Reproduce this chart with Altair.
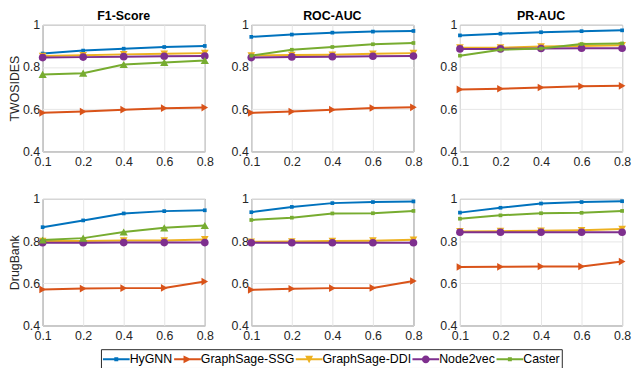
import altair as alt
import pandas as pd

x_labels = ["0.1", "0.2", "0.4", "0.6", "0.8"]
series_names = ["HyGNN", "GraphSage-SSG", "GraphSage-DDI", "Node2vec", "Caster"]
series_colors = ["#0072BD", "#D95319", "#EDB120", "#7E2F8E", "#77AC30"]
datasets = ["TWOSIDES", "DrugBank"]
metrics = ["F1-Score", "ROC-AUC", "PR-AUC"]

twosides_f1 = {
    "HyGNN": [0.864, 0.878, 0.887, 0.895, 0.900],
    "GraphSage-SSG": [0.583, 0.589, 0.598, 0.605, 0.608],
    "GraphSage-DDI": [0.852, 0.856, 0.860, 0.863, 0.866],
    "Node2vec": [0.845, 0.847, 0.849, 0.851, 0.852],
    "Caster": [0.765, 0.771, 0.812, 0.822, 0.831],
}
twosides_roc = {
    "HyGNN": [0.943, 0.954, 0.963, 0.968, 0.971],
    "GraphSage-SSG": [0.583, 0.589, 0.598, 0.606, 0.609],
    "GraphSage-DDI": [0.854, 0.857, 0.858, 0.863, 0.866],
    "Node2vec": [0.845, 0.848, 0.849, 0.851, 0.852],
    "Caster": [0.854, 0.882, 0.895, 0.908, 0.914],
}
twosides_pr = {
    "HyGNN": [0.950, 0.958, 0.965, 0.970, 0.974],
    "GraphSage-SSG": [0.694, 0.697, 0.703, 0.709, 0.711],
    "GraphSage-DDI": [0.892, 0.892, 0.897, 0.900, 0.903],
    "Node2vec": [0.886, 0.886, 0.888, 0.889, 0.889],
    "Caster": [0.854, 0.882, 0.888, 0.909, 0.912],
}
drugbank_f1 = {
    "HyGNN": [0.866, 0.898, 0.931, 0.942, 0.946],
    "GraphSage-SSG": [0.571, 0.575, 0.577, 0.578, 0.608],
    "GraphSage-DDI": [0.800, 0.800, 0.803, 0.803, 0.808],
    "Node2vec": [0.792, 0.792, 0.793, 0.793, 0.793],
    "Caster": [0.805, 0.814, 0.843, 0.863, 0.874],
}
drugbank_roc = {
    "HyGNN": [0.937, 0.962, 0.980, 0.985, 0.988],
    "GraphSage-SSG": [0.569, 0.574, 0.577, 0.578, 0.611],
    "GraphSage-DDI": [0.797, 0.798, 0.800, 0.802, 0.806],
    "Node2vec": [0.792, 0.792, 0.792, 0.792, 0.792],
    "Caster": [0.900, 0.911, 0.931, 0.932, 0.943],
}
drugbank_pr = {
    "HyGNN": [0.935, 0.958, 0.978, 0.985, 0.989],
    "GraphSage-SSG": [0.677, 0.678, 0.680, 0.680, 0.703],
    "GraphSage-DDI": [0.846, 0.847, 0.849, 0.851, 0.857],
    "Node2vec": [0.842, 0.842, 0.842, 0.842, 0.842],
    "Caster": [0.906, 0.922, 0.932, 0.934, 0.943],
}

tables = {
    ("TWOSIDES", "F1-Score"): twosides_f1,
    ("TWOSIDES", "ROC-AUC"): twosides_roc,
    ("TWOSIDES", "PR-AUC"): twosides_pr,
    ("DrugBank", "F1-Score"): drugbank_f1,
    ("DrugBank", "ROC-AUC"): drugbank_roc,
    ("DrugBank", "PR-AUC"): drugbank_pr,
}

rows = []
for (ds, met), tab in tables.items():
    for s in series_names:
        for xl, v in zip(x_labels, tab[s]):
            rows.append({"dataset": ds, "metric": met, "series": s, "x": xl, "value": v})
df = pd.DataFrame(rows)

# legend glyphs: a short line with the series marker (unit = 8 px)
LINE = "M-1,-0.125H2.375V0.125H-1Z"
legend_paths = [
    LINE + " M0.4375,-0.25H0.9375V0.25H0.4375Z",
    LINE + " M0.1875,-0.5L1.1875,0L0.1875,0.5Z",
    LINE + " M0.1875,-0.45L1.1875,-0.45L0.6875,0.5Z",
    LINE + " M1.1875,0A0.5,0.5 0 1,1 0.1875,0A0.5,0.5 0 1,1 1.1875,0Z",
    LINE + " M0.4375,-0.25H0.9375V0.25H0.4375Z",
]


def marker(name, metric):
    if name == "HyGNN":
        return "square", 14
    if name == "GraphSage-SSG":
        return "triangle-right", 60
    if name == "GraphSage-DDI":
        return "triangle-down", 60
    if name == "Node2vec":
        return "circle", 60
    if metric == "F1-Score":
        return "triangle-up", 70
    return "square", 14


W, H = 164, 128


def panel(ds, met, show_title, show_ytitle, with_legend):
    sub = df[(df.dataset == ds) & (df.metric == met)]
    base = alt.Chart(sub)
    x = alt.X("x:O", sort=x_labels,
              scale=alt.Scale(domain=x_labels, padding=0),
              axis=alt.Axis(title=None, labelAngle=0, labelPadding=4))
    y = alt.Y("value:Q", scale=alt.Scale(domain=[0.4, 1]),
              axis=alt.Axis(values=[0.4, 0.6, 0.8, 1], format=".1~f",
                            title=ds if show_ytitle else None,
                            titleFontWeight="normal", titleFontSize=12.5,
                            titlePadding=1, labelPadding=3))
    layers = []
    for name, color in zip(series_names, series_colors):
        s = base.transform_filter(alt.datum.series == name)
        layers.append(s.mark_line(color=color, strokeWidth=2).encode(x=x, y=y))
        shp, sz = marker(name, met)
        layers.append(s.mark_point(filled=True, shape=shp, size=sz, color=color,
                                   opacity=1).encode(x=x, y=y))
    if with_legend:
        leg = alt.Legend(title=None, orient="none", direction="horizontal",
                         legendX=59, legendY=328, symbolSize=256,
                         strokeColor="#262626", padding=2, columnPadding=1,
                         labelOffset=11, labelFontSize=12.5, labelColor="#000000",
                         symbolStrokeWidth=0)
        lg = base.transform_filter("datum.value < 0").mark_point(filled=True, opacity=1).encode(
            x=x, y=y,
            color=alt.Color("series:N", scale=alt.Scale(domain=series_names, range=series_colors), legend=leg),
            shape=alt.Shape("series:N", scale=alt.Scale(domain=series_names, range=legend_paths), legend=leg),
        )
        layers.append(lg)
    ch = alt.layer(*layers).properties(width=W, height=H)
    if show_title:
        ch = ch.properties(title=alt.TitleParams(met, fontWeight="bold", fontSize=12.5,
                                                 offset=-4, frame="group"))
    return ch


panels = [panel("TWOSIDES", m, True, i == 0, False) for i, m in enumerate(metrics)] + \
         [panel("DrugBank", m, False, i == 0, i == 0) for i, m in enumerate(metrics)]

chart = alt.concat(*panels, columns=3, spacing={"row": 48, "column": 47}, bounds="flush").properties(
    padding={"left": 0, "top": 0, "right": 0, "bottom": 0}
).configure(font="Liberation Sans").configure_view(
    stroke="#5a5a5a", strokeWidth=1
).configure_axis(
    domain=False, ticks=False, grid=True, gridColor="#e6e6e6", gridWidth=1,
    labelFontSize=12.5, labelColor="#262626", titleColor="#262626"
).configure_title(color="#000000", anchor="middle")

chart.save("out.html", embed_options={"renderer": "svg", "actions": False})
